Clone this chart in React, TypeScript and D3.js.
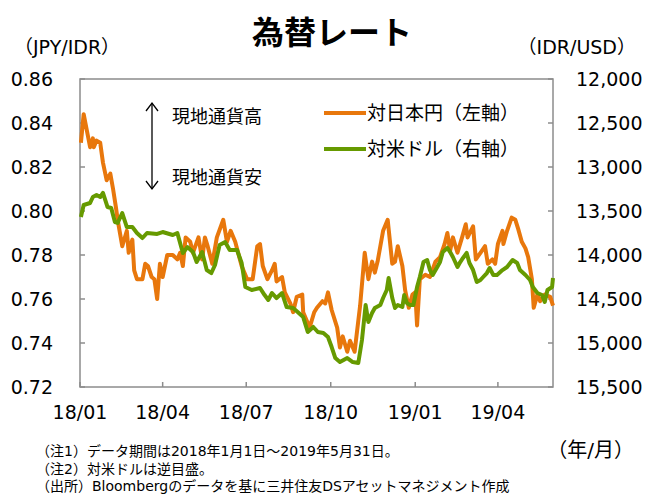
import * as d3 from 'd3';

// 対日本円 (JPY/IDR, left axis)
const jpyDates = [
    '2018-01-02', '2018-01-05', '2018-01-12', '2018-01-15', '2018-01-16', '2018-01-19', '2018-01-23', '2018-01-26',
    '2018-01-30', '2018-02-03', '2018-02-06', '2018-02-09', '2018-02-11', '2018-02-16', '2018-02-21', '2018-02-23',
    '2018-02-27', '2018-03-01', '2018-03-04', '2018-03-10', '2018-03-13', '2018-03-16', '2018-03-20', '2018-03-23',
    '2018-03-26', '2018-03-29', '2018-04-01', '2018-04-06', '2018-04-12', '2018-04-17', '2018-04-20', '2018-04-23',
    '2018-04-26', '2018-05-01', '2018-05-04', '2018-05-10', '2018-05-14', '2018-05-17', '2018-05-20', '2018-05-25',
    '2018-05-30', '2018-06-06', '2018-06-10', '2018-06-14', '2018-06-19', '2018-06-26', '2018-07-02', '2018-07-08',
    '2018-07-13', '2018-07-16', '2018-07-19', '2018-07-24', '2018-07-29', '2018-08-01', '2018-08-03', '2018-08-09',
    '2018-08-12', '2018-08-18', '2018-08-21', '2018-08-25', '2018-08-31', '2018-09-01', '2018-09-08', '2018-09-13',
    '2018-09-16', '2018-09-22', '2018-09-25', '2018-09-28', '2018-10-02', '2018-10-08', '2018-10-11', '2018-10-14',
    '2018-10-19', '2018-10-22', '2018-10-27', '2018-11-02', '2018-11-07', '2018-11-11', '2018-11-15', '2018-11-18',
    '2018-11-21', '2018-11-27', '2018-12-02', '2018-12-07', '2018-12-10', '2018-12-13', '2018-12-18', '2018-12-21',
    '2018-12-25', '2018-12-29', '2019-01-01', '2019-01-03', '2019-01-06', '2019-01-12', '2019-01-17', '2019-01-23',
    '2019-01-28', '2019-02-02', '2019-02-05', '2019-02-08', '2019-02-11', '2019-02-16', '2019-02-21', '2019-02-25',
    '2019-02-27', '2019-03-05', '2019-03-08', '2019-03-13', '2019-03-18', '2019-03-21', '2019-03-26', '2019-03-29',
    '2019-04-01', '2019-04-06', '2019-04-07', '2019-04-11', '2019-04-16', '2019-04-20', '2019-04-23', '2019-04-27',
    '2019-05-01', '2019-05-04', '2019-05-08', '2019-05-10', '2019-05-14', '2019-05-17', '2019-05-22', '2019-05-28',
    '2019-05-31',
];
const jpyValues = [
    0.831, 0.844, 0.829, 0.833, 0.829, 0.832, 0.831, 0.822,
    0.814, 0.817, 0.810, 0.802, 0.796, 0.784, 0.791, 0.781,
    0.787, 0.773, 0.769, 0.769, 0.776, 0.775, 0.770, 0.769,
    0.760, 0.776, 0.770, 0.780, 0.780, 0.778, 0.781, 0.775,
    0.788, 0.786, 0.781, 0.788, 0.778, 0.788, 0.784, 0.776,
    0.788, 0.796, 0.786, 0.791, 0.786, 0.775, 0.769, 0.769,
    0.784, 0.785, 0.775, 0.769, 0.773, 0.776, 0.768, 0.770,
    0.763, 0.758, 0.754, 0.761, 0.762, 0.754, 0.747, 0.754,
    0.756, 0.759, 0.758, 0.763, 0.755, 0.747, 0.738, 0.743,
    0.736, 0.741, 0.736, 0.757, 0.781, 0.769, 0.777, 0.772,
    0.777, 0.791, 0.796, 0.776, 0.777, 0.784, 0.775, 0.764,
    0.756, 0.762, 0.763, 0.748, 0.769, 0.771, 0.770, 0.777,
    0.779, 0.785, 0.790, 0.782, 0.788, 0.781, 0.788, 0.794,
    0.788, 0.793, 0.778, 0.781, 0.784, 0.776, 0.778, 0.776,
    0.785, 0.791, 0.785, 0.791, 0.797, 0.796, 0.792, 0.786,
    0.783, 0.779, 0.769, 0.756, 0.762, 0.759, 0.762, 0.761,
    0.757,
];

// 対米ドル (IDR/USD, right axis, inverted)
const usdDates = [
    '2018-01-02', '2018-01-05', '2018-01-12', '2018-01-15', '2018-01-19', '2018-01-23', '2018-01-26', '2018-01-31',
    '2018-02-04', '2018-02-08', '2018-02-11', '2018-02-16', '2018-02-21', '2018-02-27', '2018-03-04', '2018-03-10',
    '2018-03-15', '2018-03-26', '2018-04-01', '2018-04-12', '2018-04-17', '2018-04-23', '2018-04-28', '2018-05-04',
    '2018-05-08', '2018-05-14', '2018-05-19', '2018-05-24', '2018-05-28', '2018-06-02', '2018-06-08', '2018-06-13',
    '2018-06-21', '2018-06-26', '2018-06-30', '2018-07-07', '2018-07-16', '2018-07-21', '2018-07-25', '2018-07-29',
    '2018-08-03', '2018-08-09', '2018-08-14', '2018-08-21', '2018-08-26', '2018-09-01', '2018-09-06', '2018-09-12',
    '2018-09-17', '2018-09-23', '2018-09-28', '2018-10-02', '2018-10-06', '2018-10-11', '2018-10-19', '2018-10-25',
    '2018-10-31', '2018-11-04', '2018-11-08', '2018-11-11', '2018-11-15', '2018-11-18', '2018-11-24', '2018-11-27',
    '2018-12-01', '2018-12-03', '2018-12-07', '2018-12-10', '2018-12-13', '2018-12-18', '2018-12-20', '2018-12-23',
    '2018-12-26', '2018-12-30', '2019-01-03', '2019-01-06', '2019-01-10', '2019-01-14', '2019-01-17', '2019-01-20',
    '2019-01-25', '2019-01-28', '2019-01-31', '2019-02-05', '2019-02-08', '2019-02-11', '2019-02-16', '2019-02-19',
    '2019-02-22', '2019-02-26', '2019-03-01', '2019-03-05', '2019-03-09', '2019-03-13', '2019-03-16', '2019-03-20',
    '2019-03-23', '2019-03-27', '2019-03-31', '2019-04-06', '2019-04-11', '2019-04-17', '2019-04-22', '2019-04-25',
    '2019-05-01', '2019-05-06', '2019-05-09', '2019-05-14', '2019-05-19', '2019-05-22', '2019-05-25', '2019-05-30',
    '2019-05-31',
];
const usdValues = [
    13568, 13432, 13409, 13341, 13318, 13341, 13295, 13455,
    13466, 13625, 13636, 13523, 13682, 13682, 13750, 13807,
    13750, 13761, 13739, 13773, 13750, 13977, 13909, 13966,
    14080, 13966, 14171, 14205, 14114, 13886, 13852, 13943,
    13943, 14091, 14364, 14398, 14375, 14455, 14511, 14432,
    14489, 14432, 14591, 14602, 14648, 14705, 14875, 14818,
    14875, 14886, 14932, 15046, 15171, 15216, 15171, 15216,
    15227, 14966, 14568, 14761, 14659, 14602, 14568, 14489,
    14398, 14261, 14489, 14602, 14568, 14591, 14455, 14546,
    14568, 14568, 14364, 14250, 14080, 14057, 14171, 14227,
    14136, 14080, 13966, 13920, 13966, 14023, 14136, 14080,
    14034, 13977, 14091, 14171, 14307, 14284, 14250, 14205,
    14148, 14227, 14227, 14171, 14136, 14057, 14091, 14171,
    14227, 14284, 14364, 14432, 14455, 14534, 14398, 14364,
    14261,
];

const leftTicks = [0.72, 0.74, 0.76, 0.78, 0.8, 0.82, 0.84, 0.86];
const rightTicks = [12000, 12500, 13000, 13500, 14000, 14500, 15000, 15500];
const monthTicks = ['2018-01-01', '2018-04-01', '2018-07-01', '2018-10-01', '2019-01-01', '2019-04-01'];
const notes = [
    '（注1）データ期間は2018年1月1日～2019年5月31日。',
    '（注2）対米ドルは逆目盛。',
    '（出所）Bloombergのデータを基に三井住友DSアセットマネジメント作成',
];

const parse = d3.timeParse('%Y-%m-%d');
const W = 646;
const H = 494;
const plot = { left: 80, right: 553, top: 79, bottom: 387 };
const ORANGE = '#E8770C';
const GREEN = '#669A00';
const AXIS = '#8c8c8c';
const FONT = '"DejaVu Sans", "Noto Sans CJK JP", sans-serif';
const JFONT = '"Noto Sans CJK JP", sans-serif';

export default function App() {
    const x = d3
        .scaleTime()
        .domain([parse('2018-01-01') as Date, parse('2019-05-31') as Date])
        .range([plot.left, plot.right]);
    const yL = d3.scaleLinear().domain([0.72, 0.86]).range([plot.bottom, plot.top]);
    const yR = d3.scaleLinear().domain([12000, 15500]).range([plot.top, plot.bottom]);

    const jpy = jpyDates.map((d, i) => ({ date: parse(d) as Date, v: jpyValues[i] }));
    const usd = usdDates.map((d, i) => ({ date: parse(d) as Date, v: usdValues[i] }));

    const jpyLine = d3
        .line<{ date: Date; v: number }>()
        .x((d) => x(d.date))
        .y((d) => yL(d.v));
    const usdLine = d3
        .line<{ date: Date; v: number }>()
        .x((d) => x(d.date))
        .y((d) => yR(d.v));

    const fmtR = d3.format(',');

    return (
        <svg
            width={W}
            height={H}
            style={{ position: 'absolute', left: 0, top: 0, background: '#fff' }}
        >
            <text x={332} y={44} textAnchor="middle" fontFamily={JFONT} fontWeight={700} fontSize={32} fill="#000">
                為替レート
            </text>
            <text x={14} y={54} fontFamily={FONT} fontSize={19} fill="#000">
                （JPY/IDR）
            </text>
            <text x={636} y={54} textAnchor="end" fontFamily={FONT} fontSize={19} fill="#000">
                （IDR/USD）
            </text>

            {/* frame */}
            <rect
                x={plot.left}
                y={plot.top}
                width={plot.right - plot.left}
                height={plot.bottom - plot.top}
                fill="none"
                stroke={AXIS}
                strokeWidth={1.5}
            />
            {leftTicks.map((t) => (
                <g key={`l${t}`}>
                    <line x1={plot.left} x2={plot.left + 5} y1={yL(t)} y2={yL(t)} stroke={AXIS} strokeWidth={1.5} />
                    <text x={53} y={yL(t)} dy="0.35em" textAnchor="end" fontFamily={FONT} fontSize={19} fill="#000">
                        {t.toFixed(2)}
                    </text>
                </g>
            ))}
            {rightTicks.map((t) => (
                <g key={`r${t}`}>
                    <line x1={plot.right - 5} x2={plot.right} y1={yR(t)} y2={yR(t)} stroke={AXIS} strokeWidth={1.5} />
                    <text x={576} y={yR(t)} dy="0.35em" fontFamily={FONT} fontSize={19} fill="#000">
                        {fmtR(t)}
                    </text>
                </g>
            ))}
            {monthTicks.map((m) => {
                const d = parse(m) as Date;
                return (
                    <g key={m}>
                        <line x1={x(d)} x2={x(d)} y1={plot.bottom} y2={plot.bottom - 5} stroke={AXIS} strokeWidth={1.5} />
                        <text x={x(d)} y={419} textAnchor="middle" fontFamily={FONT} fontSize={19} fill="#000">
                            {d3.timeFormat('%y/%m')(d)}
                        </text>
                    </g>
                );
            })}

            <path d={jpyLine(jpy) ?? ''} fill="none" stroke={ORANGE} strokeWidth={4} strokeLinejoin="round" />
            <path d={usdLine(usd) ?? ''} fill="none" stroke={GREEN} strokeWidth={4} strokeLinejoin="round" />

            {/* direction arrow */}
            <g stroke="#000" strokeWidth={1.3} fill="none">
                <line x1={152} x2={152} y1={103} y2={189} />
                <polyline points="146,111 152,103 158,111" />
                <polyline points="146,181 152,189 158,181" />
            </g>
            <text x={172} y={117} dy="0.35em" fontFamily={JFONT} fontSize={18} fill="#000">
                現地通貨高
            </text>
            <text x={172} y={178} dy="0.35em" fontFamily={JFONT} fontSize={18} fill="#000">
                現地通貨安
            </text>

            {/* legend */}
            <line x1={324} x2={366} y1={113} y2={113} stroke={ORANGE} strokeWidth={4} />
            <text x={367} y={113} dy="0.35em" fontFamily={JFONT} fontSize={19} fill="#000">
                対日本円（左軸）
            </text>
            <line x1={324} x2={366} y1={149} y2={149} stroke={GREEN} strokeWidth={4} />
            <text x={367} y={149} dy="0.35em" fontFamily={JFONT} fontSize={19} fill="#000">
                対米ドル（右軸）
            </text>

            {notes.map((n, i) => (
                <text key={n} x={36} y={456 + i * 17.5} fontFamily={FONT} fontSize={14} fill="#000">
                    {n}
                </text>
            ))}
            <text x={634} y={457} textAnchor="end" fontFamily={FONT} fontSize={20} fill="#000">
                （年/月）
            </text>
        </svg>
    );
}
